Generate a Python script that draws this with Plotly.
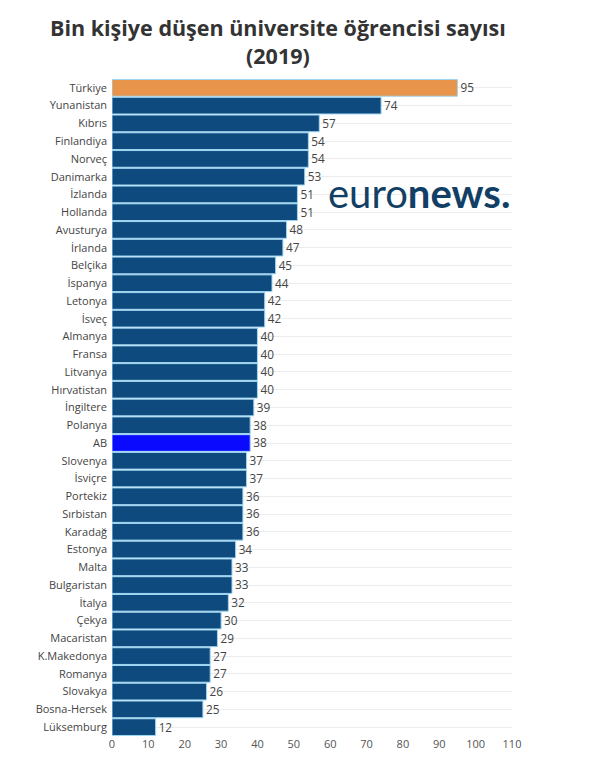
import plotly.graph_objects as go

countries = ["Türkiye", "Yunanistan", "Kıbrıs", "Finlandiya", "Norveç", "Danimarka",
             "İzlanda", "Hollanda", "Avusturya", "İrlanda", "Belçika", "İspanya",
             "Letonya", "İsveç", "Almanya", "Fransa", "Litvanya", "Hırvatistan",
             "İngiltere", "Polanya", "AB", "Slovenya", "İsviçre", "Portekiz",
             "Sırbistan", "Karadağ", "Estonya", "Malta", "Bulgaristan", "İtalya",
             "Çekya", "Macaristan", "K.Makedonya", "Romanya", "Slovakya",
             "Bosna-Hersek", "Lüksemburg"]
values = [95, 74, 57, 54, 54, 53, 51, 51, 48, 47, 45, 44, 42, 42, 40, 40, 40, 40,
          39, 38, 38, 37, 37, 36, 36, 36, 34, 33, 33, 32, 30, 29, 27, 27, 26, 25, 12]
x_ticks = [0, 10, 20, 30, 40, 50, 60, 70, 80, 90, 100, 110]

colors = []
for c in countries:
    if c == "Türkiye":
        colors.append("#e8944a")
    elif c == "AB":
        colors.append("#0a0aff")
    else:
        colors.append("#0e4a7e")

# page body adds an 8px offset; figure coords = screen coords - 8
W, H = 603, 760
L, R, T, B = 104, 99, 71, 32
PH = H - T - B
PW = W - L - R

def px(xs):
    return (xs - 8 - L) / PW

def py(ys):
    return 1 - (ys - 8 - T) / PH

fig = go.Figure(go.Bar(
    x=values, y=countries, orientation="h",
    marker=dict(color=colors, line=dict(color="#9fd6f2", width=1)),
    text=[str(v) for v in values], textposition="outside",
    textfont=dict(family="Open Sans", size=12, color="#444444"),
    cliponaxis=False,
))

fig.update_layout(
    width=W, height=H,
    margin=dict(l=L, r=R, t=T, b=B, autoexpand=False),
    paper_bgcolor="white", plot_bgcolor="white",
    bargap=0.06,
    showlegend=False,
    xaxis=dict(range=[0, 110], tickvals=x_ticks, showgrid=False, zeroline=False,
               tickfont=dict(family="Open Sans", size=11, color="#555555"),
               ticks="", showline=False),
    yaxis=dict(autorange="reversed", showgrid=True, gridcolor="#ececec", gridwidth=1,
               tickfont=dict(family="Open Sans", size=11, color="#444444"),
               ticks="", zeroline=False, automargin=False, ticklabelstandoff=4),
    font=dict(family="Open Sans"),
)

fig.add_annotation(
    xref="paper", yref="paper", x=px(278), y=py(41),
    xanchor="center", yanchor="middle", showarrow=False,
    text="<b>Bin kişiye düşen üniversite öğrencisi sayısı<br>(2019)</b>",
    font=dict(family="Open Sans", size=21.5, color="#333333"),
)
fig.add_annotation(
    xref="paper", yref="paper", x=px(419), y=py(193),
    xanchor="center", yanchor="middle", showarrow=False,
    text="euro<b>news.</b>",
    font=dict(family="Lato", size=40, color="#123f66"),
)

fig.write_html("out.html")
